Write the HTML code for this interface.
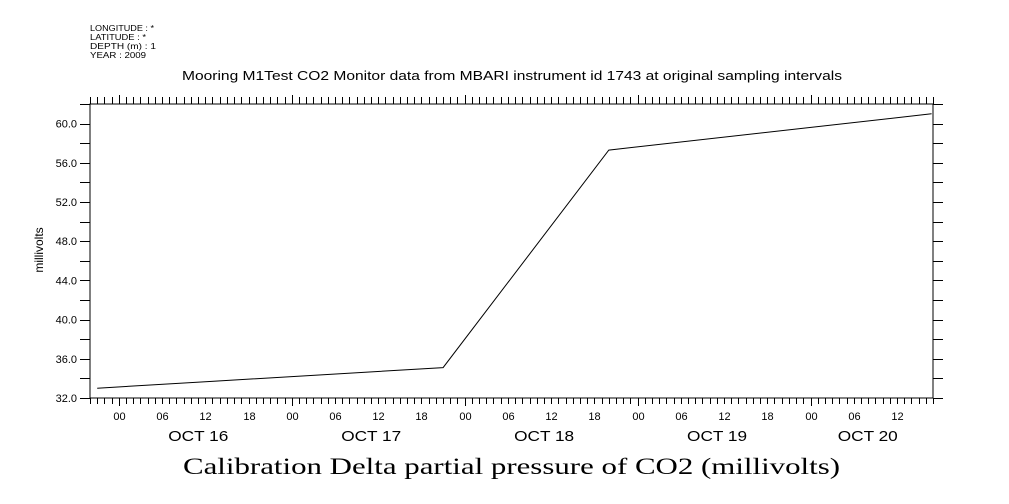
<!DOCTYPE html>
<html><head><meta charset="utf-8"><style>
html,body{margin:0;padding:0;background:#fff;}
svg{display:block;}
text{font-family:"Liberation Sans",sans-serif;fill:#000;}
</style></head><body>
<svg id="chart" width="1009" height="504" viewBox="0 0 1009 504" xmlns="http://www.w3.org/2000/svg">
<g font-size="8.5">
<text x="90" y="31" textLength="64" lengthAdjust="spacingAndGlyphs">LONGITUDE : *</text>
<text x="90" y="40" textLength="56" lengthAdjust="spacingAndGlyphs">LATITUDE : *</text>
<text x="90" y="49" textLength="66" lengthAdjust="spacingAndGlyphs">DEPTH (m) : 1</text>
<text x="90" y="58" textLength="56" lengthAdjust="spacingAndGlyphs">YEAR : 2009</text>
</g>
<text x="182" y="80" font-size="13" textLength="660" lengthAdjust="spacingAndGlyphs">Mooring M1Test CO2 Monitor data from MBARI instrument id 1743 at original sampling intervals</text>
<text x="43" y="250" text-anchor="middle" font-size="12" transform="rotate(-90 43 250)">millivolts</text>
<text x="183" y="474" font-size="23" textLength="657" lengthAdjust="spacingAndGlyphs" style="font-family:'Liberation Serif',serif">Calibration Delta partial pressure of CO2 (millivolts)</text>
<rect x="90" y="104" width="843" height="294" fill="none" stroke="#000" stroke-width="1"/>
<g id="axes"></g>
<path id="line" fill="none" stroke="#000" stroke-width="1"/>
</svg>
<script>
// hours since Oct 16 00:00
const times = [-3, 45, 68, 112.8];
const values = [33.0, 35.1, 57.3, 61.0];
const yTicks = [32,36,40,44,48,52,56,60];
const hourLabels = ["00","06","12","18"];
const dayLabels = ["OCT 16","OCT 17","OCT 18","OCT 19","OCT 20"];

const X0=90, X1=933, Y0=398, Y1=104;
const tMin=-4, tMax=113, vMin=32, vMax=62;
function xs(t){return X0+(t-tMin)/(tMax-tMin)*(X1-X0);}
function ys(v){return Y0-(v-vMin)/(vMax-vMin)*(Y0-Y1);}
const NS="http://www.w3.org/2000/svg";
const axes=document.getElementById('axes');
function ln(x1,y1,x2,y2,name){
  const l=document.createElementNS(NS,'line');
  l.setAttribute('x1',x1);l.setAttribute('y1',y1);l.setAttribute('x2',x2);l.setAttribute('y2',y2);
  l.setAttribute('stroke','#000');l.setAttribute('stroke-width',1);
  
  
  axes.appendChild(l);
}
function tx(x,y,s,size,anchor,name,len){
  const t=document.createElementNS(NS,'text');
  t.setAttribute('x',x);t.setAttribute('y',y);t.setAttribute('font-size',size);t.setAttribute('text-anchor',anchor);
  if(len){t.setAttribute('textLength',len);t.setAttribute('lengthAdjust','spacingAndGlyphs');}
  t.textContent=s;
  
  
  axes.appendChild(t);
}
// y ticks
for(let v=vMin; v<=vMax; v+=2){
  const y=Math.round(ys(v))+0.5;
  ln(X0-10,y,X0,y,'y-tick');
  ln(X1,y,X1+10,y,'y-tick-right');
}
yTicks.forEach(v=>{tx(X0-13,ys(v)+4,v.toFixed(1),11,'end','y-tick-label');});
// x ticks every hour
for(let h=Math.ceil(tMin); h<=tMax; h++){
  const x=Math.round(xs(h))+0.5;
  const major=((h%24)+24)%24===0;
  ln(x,Y1,x,Y1-(major?9:7),'x-tick-top');
  ln(x,Y0,x,Y0+(major?8:6),'x-tick');
  if(((h%6)+6)%6===0) tx(x,Y0+22,hourLabels[(((h%24)+24)%24)/6],11,'middle','hour-label');
}
dayLabels.forEach((d,i)=>{
  let c=xs(i*24+12)-7;
  const vis=(Math.max(xs(i*24),X0)+Math.min(xs(i*24+24),X1))/2-4;
  c=Math.min(c,vis);
  tx(c,Y0+43,d,15,'middle','day-label',60);
});
document.getElementById('line').setAttribute('d',times.map((t,i)=>(i?'L':'M')+xs(t).toFixed(1)+' '+ys(values[i]).toFixed(1)).join(' '));
</script>
</body></html>
